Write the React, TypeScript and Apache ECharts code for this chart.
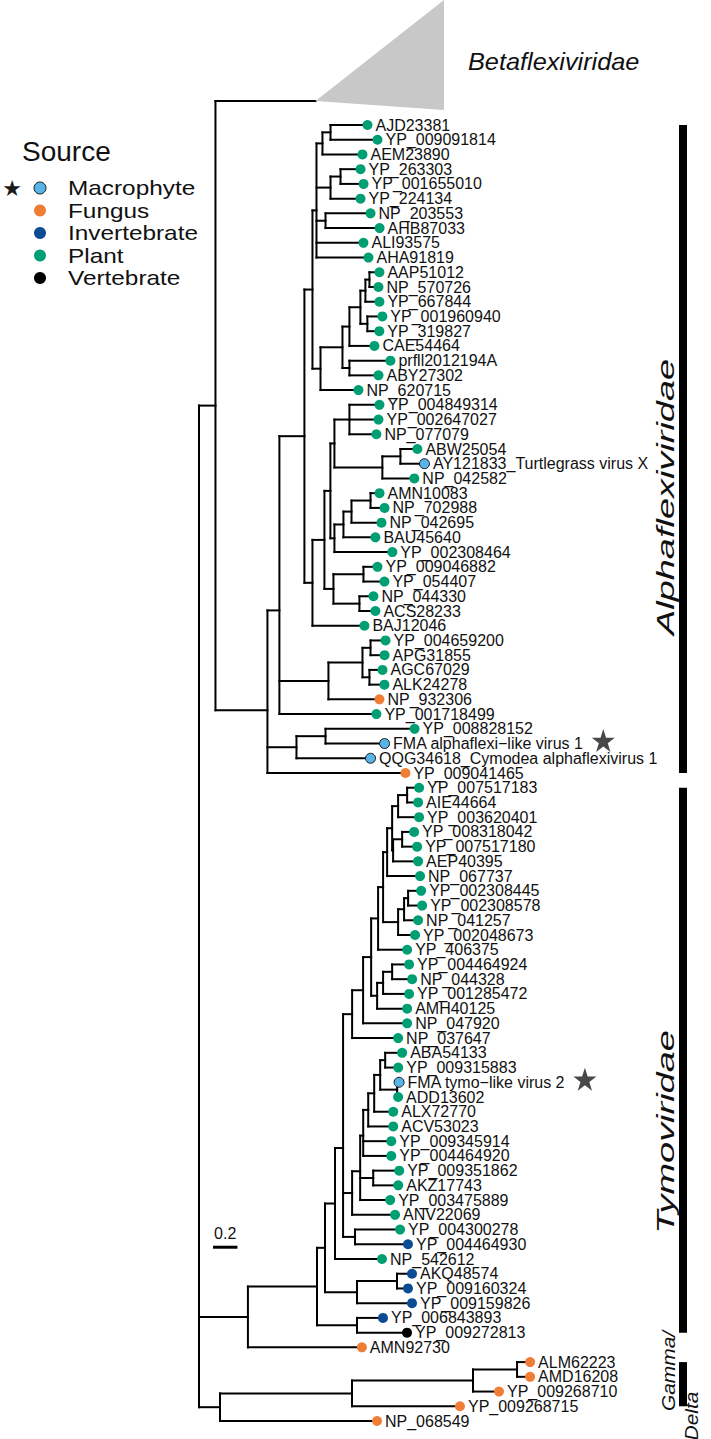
import React, { useEffect, useRef } from "react";
import * as echarts from "echarts";

// ---------- tree data (Newick pieces, branch lengths in substitutions/site) ----------
const Q1 = "((AJD23381:0.303,YP_009091814:0.385):0.066,AEM23890:0.328)";
const Q2 = "((YP_263303:0.164,YP_001655010:0.189):0.082,YP_224134:0.246)";
const Q4 = "(NP_203553:0.369,AHB87033:0.443)";
const P1 = `(${Q1}:0.049,${Q2}:0.115,${Q4}:0.074,ALI93575:0.385,AHA91819:0.426)`;
const G3 = "((AAP51012:0.082,NP_570726:0.074):0.033,YP_667844:0.115)";
const G5 = "(YP_001960940:0.123,YP_319827:0.098)";
const G1 = `(((${G3}:0.041,${G5}:0.057):0.090,CAE54464:0.205):0.057,(prfll2012194A:0.336,ABY27302:0.238):0.057)`;
const C1 = `(${G1}:0.180,NP_620715:0.311)`;
const D = `(${P1}:0.033,${C1}:0.066)`;
const F1 = "(YP_004849314:0.246,YP_002647027:0.238,NP_077079:0.221)";
const F2 = "((ABW25054:0.139,AY121833_Turtlegrass virus X:0.197):0.148,NP_042582:0.262)";
const H2 = "((AMN10083:0.074,NP_702988:0.115):0.156,NP_042695:0.246)";
const H = `((${H2}:0.066,BAU45640:0.262):0.074,YP_002308464:0.475)`;
const I1 = `((${F1}:0.123,${F2}:0.393):0.033,${H}:0.033)`;
const J = "((YP_009046882:0.115,YP_054407:0.172):0.246,(NP_044330:0.115,ACS28233:0.131):0.213)";
const K = `((${I1}:0.049,${J}:0.074):0.098,BAJ12046:0.426)`;
const E = `(${D}:0.066,${K}:0.066)`;
const M = "(((YP_004659200:0.123,APG31855:0.115):0.066,(AGC67029:0.107,ALK24278:0.123):0.057):0.279,NP_932306:0.418)";
const L = `(${E}:0.205,${M}:0.402,YP_001718499:0.795)`;
const O = "((YP_008828152:0.730,FMA alphaflexi−like virus 1:0.484):0.238,QQG34618_Cymodea alphaflexivirus 1:0.607)";
const N = `(${L}:0.098,${O}:0.238,YP_009041465:1.131)`;
const ALPHA = `(Betaflexiviridae:0.820,${N}:0.426)`;

const A2 = "((YP_007517183:0.098,AIE44664:0.090):0.074,YP_003620401:0.172)";
const A4 = "((YP_008318042:0.098,YP_007517180:0.123):0.074,AEP40395:0.205)";
const A6 = `((${A2}:0.049,${A4}:0.008):0.041,NP_067737:0.270)`;
const B3 = "(((YP_002308445:0.107,YP_002308578:0.115):0.033,NP_041257:0.115):0.049,YP_002048673:0.139)";
const C2 = `((${A6}:0.033,${B3}:0.123):0.041,YP_406375:0.238)`;
const SS = "(((YP_004464924:0.139,NP_044328:0.164):0.074,YP_001285472:0.213):0.049,AMH40125:0.246)";
const MM = `(((${C2}:0.057,${SS}:0.049):0.066,NP_047920:0.361):0.090,NP_037647:0.377)`;
const FF = "((ABA54133:0.139,YP_009315883:0.107):0.041,(FMA tymo−like virus 2:0.016,ADD13602:0.008):0.139)";
const II = `(((${FF}:0.049,ALX72770:0.156):0.049,ACV53023:0.205):0.041,YP_009345914:0.230,YP_004464920:0.230)`;
const LL = `((${II}:0.025,(YP_009351862:0.213,AKZ17743:0.205):0.107,YP_003475889:0.246):0.066,ANV22069:0.352)`;
const CC = "(YP_004300278:0.369,YP_004464930:0.434)";
const AA = `((${MM}:0.074,${LL}:0.074,${CC}:0.098):0.066,NP_542612:0.385)`;
const DD = "((AKQ48574:0.123,YP_009160324:0.090):0.328,YP_009159826:0.451)";
const FFF = "(YP_006843893:0.213,YP_009272813:0.410)";
const TYMO = `((((${AA}:0.082,${DD}:0.262):0.066,${FFF}:0.328):0.566,AMN92730:0.934)`;
const GAMMA = "((((ALM62223:0.107,AMD16208:0.107):0.361,YP_009268710:0.213):0.992,YP_009268715:0.885):1.082,NP_068549:1.287)";
const NEWICK = `((${ALPHA}:0.135,${TYMO}:0.381):0.020,${GAMMA}:0.172);`;

// collapsed clade
const COLLAPSED_NAME = "Betaflexiviridae";
const COLLAPSED_Y = -1.63;
const COLLAPSED_TOP = -8.49;
const COLLAPSED_BOTTOM = -1.02;
const COLLAPSED_TIP_DEPTH = 2.008;

// sources
const MACROPHYTE = ["AY121833_Turtlegrass virus X", "FMA alphaflexi−like virus 1", "QQG34618_Cymodea alphaflexivirus 1", "FMA tymo−like virus 2"];
const FUNGUS = ["NP_932306", "YP_009041465", "AMN92730", "ALM62223", "AMD16208", "YP_009268710", "YP_009268715", "NP_068549"];
const INVERTEBRATE = ["YP_004464930", "AKQ48574", "YP_009160324", "YP_009159826", "YP_006843893"];
const VERTEBRATE = ["YP_009272813"];
const STARRED = ["FMA alphaflexi−like virus 1", "FMA tymo−like virus 2"];

const SOURCES = ["Macrophyte", "Fungus", "Invertebrate", "Plant", "Vertebrate"];
const SOURCE_COLORS = ["#56B4E9", "#F07D36", "#0B4B94", "#009E73", "#000000"];

// clade bars (leaf index ranges)
const CLADE_NAMES = ["Alphaflexiviridae", "Tymoviridae", "Gamma/", "Delta"];
const CLADE_START = [0, 45, 84];
const CLADE_END = [44, 82, 87];

const SCALE_LEN = 0.2;
const SCALE_POS = [0.115, 76.2];

const FONT = "'Liberation Sans', Arial, Helvetica, sans-serif";
const TIP_FONT_SIZE = 16;
const PX_PER_UNIT = 122;
const STAR_PATH =
  "path://M12,0.5 L14.8,8.8 L23.6,8.8 L16.5,14 L19.2,22.5 L12,17.3 L4.8,22.5 L7.5,14 L0.4,8.8 L9.2,8.8 Z";

type TNode = { name: string; bl: number; children: TNode[]; depth: number; y: number };

function parseNewick(s: string): TNode {
  let i = 0;
  const parse = (): TNode => {
    const node: TNode = { name: "", bl: 0, children: [], depth: 0, y: 0 };
    if (s[i] === "(") {
      i++;
      node.children.push(parse());
      while (s[i] === ",") {
        i++;
        node.children.push(parse());
      }
      i++;
    }
    let name = "";
    while (i < s.length && !",():;".includes(s[i])) name += s[i++];
    node.name = name.trim();
    if (s[i] === ":") {
      i++;
      let num = "";
      while (i < s.length && !",();".includes(s[i])) num += s[i++];
      node.bl = parseFloat(num);
    }
    return node;
  };
  return parse();
}

function sourceOf(name: string): number {
  if (MACROPHYTE.includes(name)) return 0;
  if (FUNGUS.includes(name)) return 1;
  if (INVERTEBRATE.includes(name)) return 2;
  if (VERTEBRATE.includes(name)) return 4;
  return 3;
}

function textWidth(t: string, size: number): number {
  const ctx = document.createElement("canvas").getContext("2d");
  if (!ctx) return t.length * size * 0.55;
  ctx.font = `${size}px ${FONT}`;
  return ctx.measureText(t).width;
}

export default function App() {
  const ref = useRef<HTMLDivElement>(null);
  useEffect(() => {
    const root = parseNewick(NEWICK);
    let leafIdx = 0;
    const segs: number[][] = [];
    const leaves: { name: string; depth: number; y: number }[] = [];
    let collapsedApex: number[] = [];
    const layout = (n: TNode, parentDepth: number) => {
      n.depth = parentDepth + n.bl;
      if (!n.children.length) {
        if (n.name === COLLAPSED_NAME) {
          n.y = COLLAPSED_Y;
          collapsedApex = [n.depth, n.y];
        } else {
          n.y = leafIdx++;
          leaves.push({ name: n.name, depth: n.depth, y: n.y });
        }
      } else {
        n.children.forEach((c) => layout(c, n.depth));
        n.y = n.children.reduce((a, c) => a + c.y, 0) / n.children.length;
        const ys = n.children.map((c) => c.y);
        segs.push([n.depth, Math.min(...ys), n.depth, Math.max(...ys)]);
        n.children.forEach((c) => segs.push([n.depth, c.y, c.depth, c.y]));
      }
    };
    layout(root, 0);

    const chart = echarts.init(ref.current!, null, { renderer: "svg" });

    const scatterSeries = SOURCES.map((src, si) => ({
      type: "scatter",
      name: src,
      symbol: "circle",
      symbolSize: 10,
      z: 5,
      itemStyle: {
        color: SOURCE_COLORS[si],
        borderColor: si === 0 ? "#1a1a1a" : SOURCE_COLORS[si],
        borderWidth: si === 0 ? 1 : 0,
        opacity: 1,
      },
      label: {
        show: true,
        position: "right",
        distance: 3,
        color: "#111",
        fontSize: TIP_FONT_SIZE,
        fontFamily: FONT,
        formatter: (p: any) => p.name,
      },
      emphasis: { disabled: true },
      data: leaves.filter((l) => sourceOf(l.name) === si).map((l) => ({ name: l.name, value: [l.depth, l.y] })),
    }));

    const starData = leaves
      .filter((l) => STARRED.includes(l.name))
      .map((l) => [l.depth + (8 + textWidth(l.name, TIP_FONT_SIZE) + 9 + 11) / PX_PER_UNIT, l.y]);

    const option: any = {
      animation: false,
      backgroundColor: "#fff",
      grid: { left: 199, right: 24, top: 125, bottom: 18 },
      xAxis: { type: "value", min: 0, max: 4, show: false },
      yAxis: { type: "value", min: 0, max: 88, inverse: true, show: false },
      series: [
        {
          type: "custom",
          name: "branches",
          clip: false,
          silent: true,
          encode: { x: [0, 2], y: [1, 3] },
          data: segs,
          renderItem: (_p: any, api: any) => {
            const a = api.coord([api.value(0), api.value(1)]);
            const b = api.coord([api.value(2), api.value(3)]);
            return {
              type: "line",
              shape: { x1: a[0], y1: a[1], x2: b[0], y2: b[1] },
              style: { stroke: "#000", lineWidth: 2, lineCap: "square" },
            };
          },
        },
        {
          type: "custom",
          name: "collapsed",
          clip: false,
          silent: true,
          data: [[collapsedApex[0], collapsedApex[1], COLLAPSED_TIP_DEPTH, COLLAPSED_TOP, COLLAPSED_BOTTOM]],
          renderItem: (_p: any, api: any) => {
            const a = api.coord([api.value(0), api.value(1)]);
            const t = api.coord([api.value(2), api.value(3)]);
            const b = api.coord([api.value(2), api.value(4)]);
            return { type: "polygon", shape: { points: [a, t, b] }, style: { fill: "#C8C8C8" } };
          },
        },
        {
          type: "custom",
          name: "clades",
          clip: false,
          silent: true,
          data: CLADE_START.map((s, i) => [s, CLADE_END[i]]),
          renderItem: (_p: any, api: any) => {
            const t = api.coord([0, api.value(0)]);
            const b = api.coord([0, api.value(1)]);
            return { type: "rect", shape: { x: 679, y: t[1], width: 8, height: b[1] - t[1] }, style: { fill: "#000" } };
          },
        },
        {
          type: "custom",
          name: "scale",
          clip: false,
          silent: true,
          data: [[SCALE_POS[0], SCALE_POS[1], SCALE_LEN]],
          renderItem: (_p: any, api: any) => {
            const a = api.coord([api.value(0), api.value(1)]);
            const b = api.coord([api.value(0) + api.value(2), api.value(1)]);
            return {
              type: "group",
              children: [
                { type: "line", shape: { x1: a[0], y1: a[1], x2: b[0], y2: b[1] }, style: { stroke: "#000", lineWidth: 3 } },
                {
                  type: "text",
                  x: (a[0] + b[0]) / 2,
                  y: a[1] - 6,
                  style: { text: String(SCALE_LEN), fontSize: 16, fontFamily: FONT, fill: "#111", align: "center", verticalAlign: "bottom" },
                },
              ],
            };
          },
        },
        ...scatterSeries,
        {
          type: "scatter",
          name: "stars",
          symbol: STAR_PATH,
          symbolSize: 23,
          symbolOffset: [0, -3],
          z: 6,
          silent: true,
          itemStyle: { color: "#1a1a1a" },
          data: starData,
        },
      ],
      graphic: [
        {
          type: "text", left: 468, top: 50, scaleX: 1.1,
          style: { text: COLLAPSED_NAME, fontSize: 23, fontStyle: "italic", fontFamily: FONT, fill: "#111" },
        },
        { type: "text", x: 22, y: 151, style: { text: "Source", fontSize: 28, fontFamily: FONT, fill: "#111", verticalAlign: "middle" } },
        { type: "text", x: 12, y: 188, style: { text: "★", fontSize: 22, fontFamily: "'DejaVu Sans'", fill: "#1a1a1a", align: "center", verticalAlign: "middle" } },
        ...SOURCES.flatMap((s, i) => [
          {
            type: "circle",
            shape: { cx: 40, cy: 188 + i * 22.5, r: 6 },
            style: { fill: SOURCE_COLORS[i], stroke: i === 0 ? "#1a1a1a" : null, lineWidth: 1 },
          },
          {
            type: "text", x: 68, y: 188 + i * 22.5, scaleX: 1.16,
            style: { text: s, fontSize: 21, fontFamily: FONT, fill: "#111", verticalAlign: "middle" },
          },
        ]),
        {
          type: "text", x: 666, y: 497, rotation: Math.PI / 2, scaleX: 1.65,
          style: { text: CLADE_NAMES[0], fontSize: 23, fontStyle: "italic", fontFamily: FONT, fill: "#111", align: "center", verticalAlign: "middle" },
        },
        {
          type: "text", x: 666, y: 1132, rotation: Math.PI / 2, scaleX: 1.65,
          style: { text: CLADE_NAMES[1], fontSize: 23, fontStyle: "italic", fontFamily: FONT, fill: "#111", align: "center", verticalAlign: "middle" },
        },
        {
          type: "text", x: 668, y: 1371, rotation: Math.PI / 2, scaleX: 1.1,
          style: { text: CLADE_NAMES[2], fontSize: 19, fontStyle: "italic", fontFamily: FONT, fill: "#111", align: "center", verticalAlign: "middle" },
        },
        {
          type: "text", x: 691, y: 1416, rotation: Math.PI / 2, scaleX: 1.1,
          style: { text: CLADE_NAMES[3], fontSize: 19, fontStyle: "italic", fontFamily: FONT, fill: "#111", align: "center", verticalAlign: "middle" },
        },
      ],
    };
    chart.setOption(option);
    return () => chart.dispose();
  }, []);
  return <div ref={ref} style={{ position: "absolute", left: 0, top: 0, width: 711, height: 1439, background: "#fff" }} />;
}
